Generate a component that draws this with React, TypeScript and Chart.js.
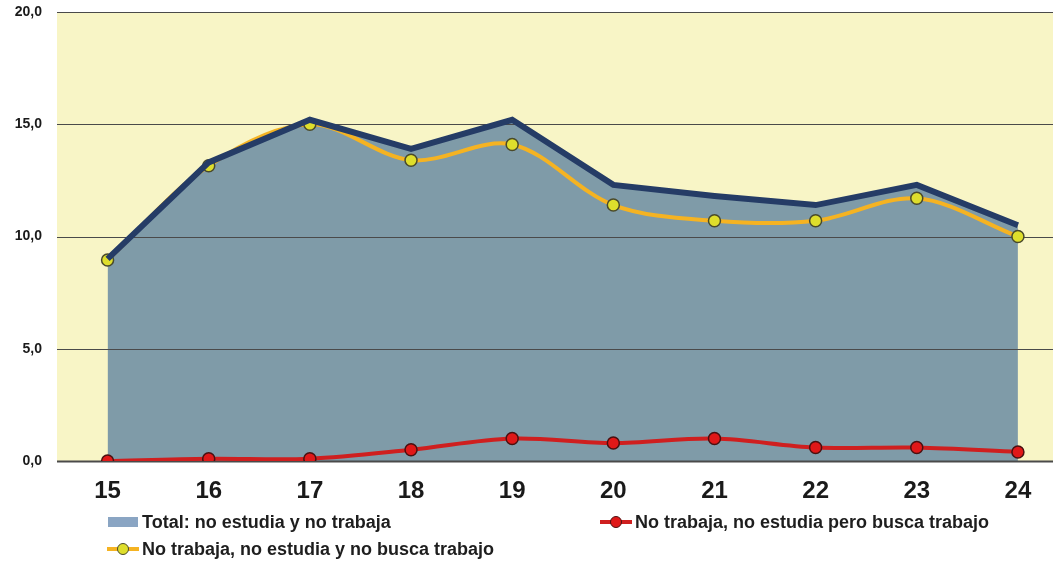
import React, { useEffect, useRef } from 'react';
import { Chart, registerables } from 'chart.js';
Chart.register(...registerables);

const categories = ['15', '16', '17', '18', '19', '20', '21', '22', '23', '24'];
const totalValues = [9.0, 13.3, 15.2, 13.9, 15.2, 12.3, 11.8, 11.4, 12.3, 10.5];
const noBuscaValues = [8.95, 13.15, 15.0, 13.4, 14.1, 11.4, 10.7, 10.7, 11.7, 10.0];
const buscaValues = [0.0, 0.1, 0.1, 0.5, 1.0, 0.8, 1.0, 0.6, 0.6, 0.4];
const yTickValues = [0, 5, 10, 15, 20];
const labelTotal = 'Total: no estudia y no trabaja';
const labelBusca = 'No trabaja, no estudia pero busca trabajo';
const labelNoBusca = 'No trabaja, no estudia y no busca trabajo';

const FONT = "'Liberation Sans Narrow', 'Liberation Sans', Arial, sans-serif";
const C_BG = '#f8f5c6';
const C_FILL = '#7f9ba8';
const C_NAVY = '#253c66';
const C_YELLOW = '#f5b322';
const C_YPOINT = '#dede2c';
const C_RED = '#cf1f1f';
const C_RPOINT = '#e01818';
const C_LEG_BOX = '#8aa5c3';

const fmt = (v: number) => v.toFixed(1).replace('.', ',');

export default function App() {
  const ref = useRef<HTMLCanvasElement | null>(null);
  useEffect(() => {
    if (!ref.current) return;
    const bgPlugin = {
      id: 'bgPlugin',
      beforeDatasetsDraw(chart: any) {
        const { ctx, chartArea } = chart;
        ctx.save();
        ctx.fillStyle = C_BG;
        ctx.fillRect(chartArea.left, chartArea.top, chartArea.right - chartArea.left, chartArea.bottom - chartArea.top);
        ctx.restore();
      },
      afterDatasetDraw(chart: any, args: any) {
        if (args.index !== 3) return;
        const { ctx, chartArea, scales } = chart;
        ctx.save();
        ctx.strokeStyle = '#4a4a4a';
        yTickValues.forEach((v) => {
          ctx.lineWidth = v === 0 ? 2 : 1.2;
          const y = Math.round(scales.y.getPixelForValue(v)) + 0.5;
          ctx.beginPath();
          ctx.moveTo(chartArea.left, y);
          ctx.lineTo(chartArea.right, y);
          ctx.stroke();
        });
        ctx.restore();
      },
    };
    const chart = new Chart(ref.current, {
      type: 'line',
      data: {
        labels: categories,
        datasets: [
          {
            label: labelBusca,
            data: buscaValues,
            order: 1,
            borderColor: C_RED,
            borderWidth: 4,
            tension: 0.33,
            pointRadius: 6,
            pointBackgroundColor: C_RPOINT,
            pointBorderColor: '#4a1010',
            pointBorderWidth: 1.5,
            fill: false,
          },
          {
            label: labelNoBusca,
            data: noBuscaValues,
            order: 2,
            borderColor: C_YELLOW,
            borderWidth: 4,
            tension: 0.33,
            pointRadius: 6,
            pointBackgroundColor: C_YPOINT,
            pointBorderColor: '#4a4a2a',
            pointBorderWidth: 1.5,
            fill: false,
          },
          {
            label: labelTotal,
            data: totalValues,
            order: 0,
            borderColor: C_NAVY,
            borderWidth: 6,
            tension: 0,
            pointRadius: 0,
            fill: false,
          },
          {
            label: 'fill',
            data: totalValues,
            order: 3,
            borderWidth: 0,
            borderColor: 'rgba(0,0,0,0)',
            backgroundColor: C_FILL,
            tension: 0,
            pointRadius: 0,
            fill: 'origin',
          },
        ],
      },
      options: {
        animation: false,
        responsive: false,
        maintainAspectRatio: false,
        layout: { padding: { top: 12, left: 0, right: 0, bottom: 0 } },
        plugins: { legend: { display: false }, tooltip: { enabled: false } },
        scales: {
          x: {
            offset: true,
            grid: { display: false, drawTicks: false },
            border: { display: false },
            ticks: {
              color: '#1a1a1a',
              font: { family: "'Liberation Sans', Arial, sans-serif", size: 24, weight: 'bold' },
              padding: 16,
            },
            afterFit(scale: any) {
              scale.height = 104;
              scale.paddingLeft = 0;
              scale.paddingRight = 0;
            },
          },
          y: {
            min: 0,
            max: 20,
            grid: { display: false, drawTicks: false },
            border: { display: false },
            afterBuildTicks(scale: any) {
              scale.ticks = yTickValues.map((v) => ({ value: v }));
            },
            ticks: {
              color: '#1a1a1a',
              font: { family: FONT, size: 14, weight: 'bold' },
              padding: 15,
              callback: (v: any) => fmt(Number(v)),
            },
            afterFit(scale: any) {
              scale.width = 57;
              scale.paddingTop = 0;
              scale.paddingBottom = 0;
            },
          },
        },
      },
      plugins: [bgPlugin],
    } as any);
    return () => chart.destroy();
  }, []);

  const textStyle: React.CSSProperties = {
    position: 'absolute',
    fontFamily: FONT,
    fontWeight: 'bold',
    fontSize: 18,
    color: '#1e1e1e',
    whiteSpace: 'nowrap',
    lineHeight: '20px',
  };

  return (
    <div style={{ position: 'fixed', left: 0, top: 0, width: 1053, height: 565, overflow: 'hidden', background: '#fff' }}>
      <canvas ref={ref} width={1076} height={565} style={{ position: 'absolute', left: 0, top: 0, width: 1076, height: 565 }} />
      <div style={{ position: 'absolute', left: 108, top: 517, width: 30, height: 10, background: C_LEG_BOX }} />
      <div style={{ ...textStyle, left: 142, top: 512 }}>{labelTotal}</div>
      <div style={{ position: 'absolute', left: 600, top: 520, width: 32, height: 4, background: C_RED }} />
      <div style={{ position: 'absolute', left: 610, top: 516, width: 10, height: 10, borderRadius: '50%', background: C_RPOINT, border: '1.5px solid #4a1010' }} />
      <div style={{ ...textStyle, left: 635, top: 512 }}>{labelBusca}</div>
      <div style={{ position: 'absolute', left: 107, top: 547, width: 32, height: 4, background: C_YELLOW }} />
      <div style={{ position: 'absolute', left: 117, top: 543, width: 10, height: 10, borderRadius: '50%', background: C_YPOINT, border: '1.5px solid #4a4a2a' }} />
      <div style={{ ...textStyle, left: 142, top: 539 }}>{labelNoBusca}</div>
    </div>
  );
}
